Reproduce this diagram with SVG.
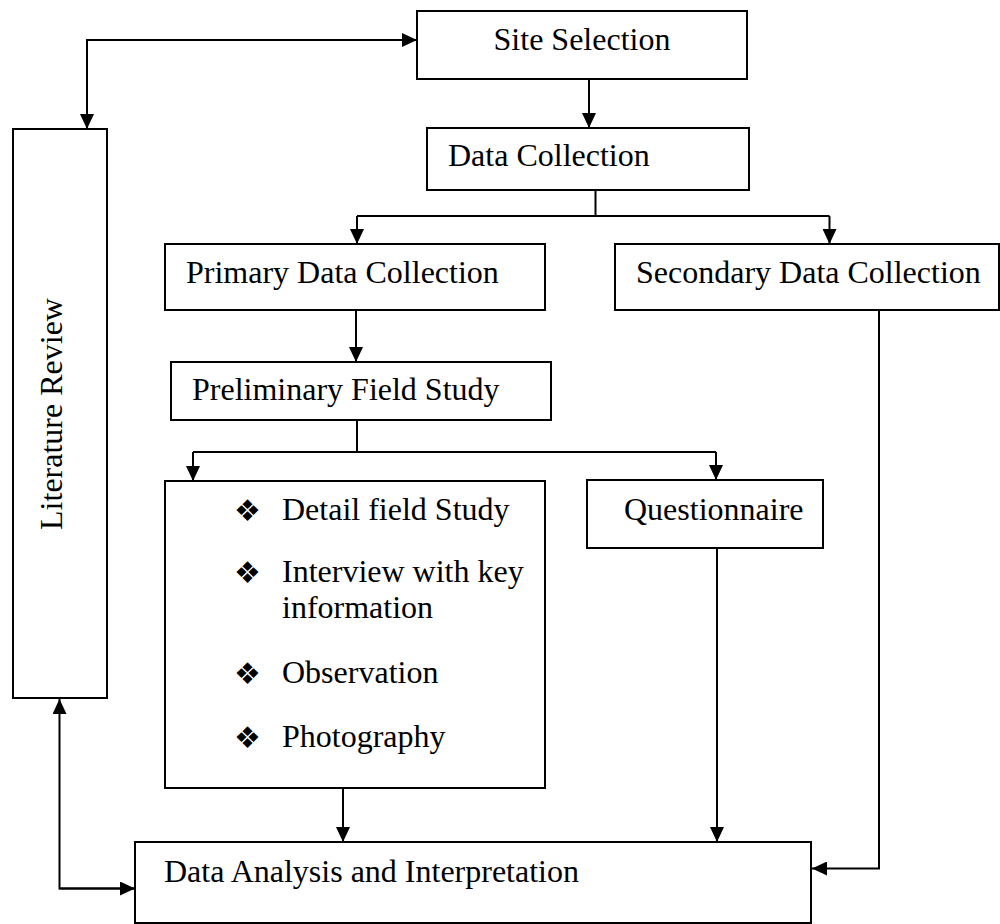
<svg xmlns="http://www.w3.org/2000/svg" width="1000" height="924" viewBox="0 0 1000 924">
<style>
.box{fill:#fff;stroke:#000;stroke-width:2}
.t{font-family:"Liberation Serif","Times New Roman",serif;font-size:32px;fill:#000}
.b{font-family:"DejaVu Sans",sans-serif;font-size:30px;fill:#000}
.c{fill:none;stroke:#000;stroke-width:2}
</style>
<defs>
<marker id="ah" viewBox="0 0 15 14" refX="15" refY="7" markerWidth="15" markerHeight="14" markerUnits="userSpaceOnUse" orient="auto">
<path d="M0,0 L15,7 L0,14 Z" fill="#000"/>
</marker>
</defs>
<rect width="1000" height="924" fill="#fff"/>
<g id="site-selection"><rect class="box" x="417" y="11" width="330" height="68"/><text class="t" x="582" y="50" text-anchor="middle">Site Selection</text></g>
<g id="data-collection"><rect class="box" x="427" y="128" width="322" height="62"/><text class="t" x="448" y="166">Data Collection</text></g>
<g id="literature-review"><rect class="box" x="13" y="129" width="94" height="569"/><text class="t" transform="translate(62,414) rotate(-90)" text-anchor="middle">Literature Review</text></g>
<g id="primary"><rect class="box" x="165" y="244" width="380" height="66"/><text class="t" x="186" y="283">Primary Data Collection</text></g>
<g id="secondary"><rect class="box" x="615" y="244" width="384" height="66"/><text class="t" x="636" y="283">Secondary Data Collection</text></g>
<g id="preliminary"><rect class="box" x="171" y="362" width="380" height="58"/><text class="t" x="192" y="400">Preliminary Field Study</text></g>
<g id="methods"><rect class="box" x="165" y="481" width="380" height="307"/>
<text class="b" x="247.5" y="521" text-anchor="middle">❖</text><text class="t" x="282" y="520">Detail field Study</text>
<text class="b" x="247.5" y="583" text-anchor="middle">❖</text><text class="t" x="282" y="582">Interview with key</text>
<text class="t" x="282" y="618">information</text>
<text class="b" x="247.5" y="684" text-anchor="middle">❖</text><text class="t" x="282" y="683">Observation</text>
<text class="b" x="247.5" y="748" text-anchor="middle">❖</text><text class="t" x="282" y="747">Photography</text>
</g>
<g id="questionnaire"><rect class="box" x="587" y="480" width="236" height="68"/><text class="t" x="624" y="520">Questionnaire</text></g>
<g id="analysis"><rect class="box" x="135" y="842" width="676" height="81"/><text class="t" x="164" y="882">Data Analysis and Interpretation</text></g>
<g id="connectors">
<path class="c" d="M87,129 V40 H417" marker-end="url(#ah)"/>
<path class="c" d="M87,40 V129" marker-end="url(#ah)"/>
<path class="c" d="M589,79 V128" marker-end="url(#ah)"/>
<path class="c" d="M595.5,190 V216 M357,216 H829.5"/>
<path class="c" d="M357,216 V244" marker-end="url(#ah)"/>
<path class="c" d="M829.5,216 V244" marker-end="url(#ah)"/>
<path class="c" d="M356,310 V362" marker-end="url(#ah)"/>
<path class="c" d="M357,420 V452 M193,452 H716"/>
<path class="c" d="M193,452 V481" marker-end="url(#ah)"/>
<path class="c" d="M716,452 V480" marker-end="url(#ah)"/>
<path class="c" d="M343,788 V842" marker-end="url(#ah)"/>
<path class="c" d="M717,548 V842" marker-end="url(#ah)"/>
<path class="c" d="M879,310 V868.5 H812" marker-end="url(#ah)"/>
<path class="c" d="M135,888.5 H59.5 V699" marker-end="url(#ah)"/>
<path class="c" d="M59.5,888.5 H135" marker-end="url(#ah)"/>
</g>
</svg>
